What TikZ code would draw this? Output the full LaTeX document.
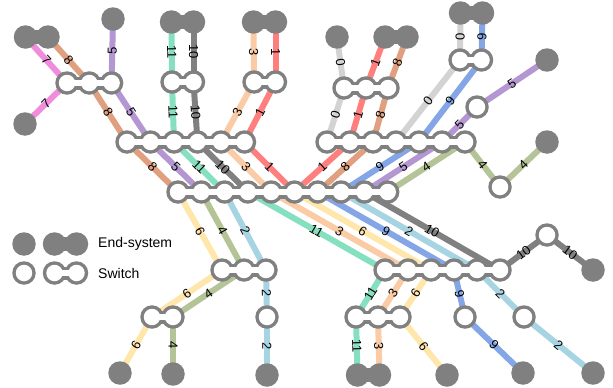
\documentclass[tikz,border=0pt]{standalone}
\usepackage{fontspec}
\setmainfont{Liberation Sans}
\definecolor{c0}{HTML}{D3D3D3}
\definecolor{c1}{HTML}{FF7F7F}
\definecolor{c2}{HTML}{A6D4E2}
\definecolor{c3}{HTML}{FACBA4}
\definecolor{c4}{HTML}{B4C496}
\definecolor{c5}{HTML}{B496D2}
\definecolor{c6}{HTML}{FFE6AA}
\definecolor{c7}{HTML}{F08CDC}
\definecolor{c8}{HTML}{E0A080}
\definecolor{c9}{HTML}{84A6E6}
\definecolor{c10}{HTML}{808080}
\definecolor{c11}{HTML}{84E0BE}
\definecolor{ng}{HTML}{808080}
\pgfdeclarelayer{bg}
\pgfsetlayers{bg,main}
% switch: name, n, x1, spacing, y
\newcommand\mkswitch[5]{%
  \foreach \i in {1,...,#2}{\coordinate (#1\i) at ({#3+(\i-1)*#4},#5);}%
  \pgfmathsetmacro\xend{#3+(#2-1)*#4}%
  \fill[ng] (#3,#5-6.5) rectangle (\xend,#5+6.5);
  \foreach \i in {1,...,#2}{\fill[ng] ({#3+(\i-1)*#4},#5) circle (11.75);}
  \fill[white] (#3,#5-3) rectangle (\xend,#5+3);
  \foreach \i in {1,...,#2}{\fill[white] ({#3+(\i-1)*#4},#5) circle (8.25);}
}
\newcommand\esbar[2]{\fill[ng] ([yshift=-7pt]#1.center) rectangle ([yshift=7pt]#2.center);}
\begin{document}
\begin{tikzpicture}[x=1pt,y=-1pt,
  lk/.style={line width=6pt},
  lab/.style={font=\fontsize{13}{13}\selectfont, sloped, inner sep=0pt, midway, text=black},
  es/.style={circle, fill=ng, minimum size=23.5pt, inner sep=0pt, draw=none},
  legtxt/.style={font=\fontsize{14}{14}\selectfont, anchor=west, inner sep=0pt}]
\useasboundingbox (0,0) rectangle (613,388);
% switches
\mkswitch{sa}{3}{67}{22.3}{83}
\mkswitch{sb}{2}{172}{21.5}{82}
\mkswitch{sc}{2}{254}{21.5}{82}
\mkswitch{sd}{6}{127}{23.5}{142}
\mkswitch{se}{10}{178}{23.3}{192}
\mkswitch{sf}{7}{327}{23}{142}
\mkswitch{sg}{3}{344}{22}{88}
\mkswitch{sh}{2}{460}{21.5}{60}
\mkswitch{sp}{1}{477}{0}{107}
\mkswitch{sq}{1}{500}{0}{187}
\mkswitch{sj}{3}{222}{22}{270}
\mkswitch{si}{2}{152}{21}{317}
\mkswitch{sr}{1}{267}{0}{317}
\mkswitch{sk}{6}{385}{23}{270}
\mkswitch{sl}{3}{356}{22}{317}
\mkswitch{ss}{1}{465}{0}{317}
\mkswitch{st}{1}{524}{0}{317}
\mkswitch{su}{1}{547}{0}{235}
\mkswitch{lgsa}{1}{24}{0}{273}
\mkswitch{lgsb}{2}{54.5}{22}{273}
% end-systems
\node[es] (ea1) at (25.5,37) {};
\node[es] (ea2) at (48,37) {};
\node[es] (eb) at (25,124) {};
\node[es] (ec) at (113,19) {};
\node[es] (ed1) at (171.5,22) {};
\node[es] (ed2) at (193.5,22) {};
\node[es] (ee1) at (253.5,22) {};
\node[es] (ee2) at (275.5,22) {};
\node[es] (ef) at (337,37) {};
\node[es] (eg1) at (385,37) {};
\node[es] (eg2) at (407,37) {};
\node[es] (eh1) at (460.5,13) {};
\node[es] (eh2) at (482.5,13) {};
\node[es] (ei) at (547,60) {};
\node[es] (ej) at (547,142) {};
\node[es] (ek) at (120,373) {};
\node[es] (el) at (173,374) {};
\node[es] (em) at (267,375) {};
\node[es] (en1) at (357.5,375) {};
\node[es] (en2) at (379.5,375) {};
\node[es] (eo) at (447,375) {};
\node[es] (ep) at (523,373) {};
\node[es] (eq) at (593,373) {};
\node[es] (er) at (593,270) {};
% bars of double end-systems
\esbar{ea1}{ea2}
\esbar{ed1}{ed2}
\esbar{ee1}{ee2}
\esbar{eg1}{eg2}
\esbar{eh1}{eh2}
\esbar{en1}{en2}
% legend
\node[es] (lge1) at (24,244) {};
\node[es] (lge2) at (54.5,244) {};
\node[es] (lge3) at (76.5,244) {};
\esbar{lge2}{lge3}
\node[legtxt] (lgt1) at (98,244) {End-system};
\node[legtxt] (lgt2) at (98,273) {Switch};
% links
\begin{pgfonlayer}{bg}
\draw[lk,c7] (ea1.center) -- node[lab] (t1) {7} (sa1);
\draw[lk,c7] (sa1) -- node[lab] (t2) {7} (eb.center);
\draw[lk,c8] (ea2.center) -- node[lab] (t3) {8} (sa2);
\draw[lk,c8] (sa2) -- node[lab] (t4) {8} (sd1);
\draw[lk,c8] (sd1) -- node[lab] (t5) {8} (se1);
\draw[lk,c5] (ec.center) -- node[lab] (t6) {5} (sa3);
\draw[lk,c5] (sa3) -- node[lab] (t7) {5} (sd2);
\draw[lk,c5] (sd2) -- node[lab] (t8) {5} (se2);
\draw[lk,c11] (ed1.center) -- node[lab] (t9) {11} (sb1);
\draw[lk,c11] (sb1) -- node[lab] (t10) {11} (sd3);
\draw[lk,c11] (sd3) -- node[lab] (t11) {11} (se3);
\draw[lk,c10] (ed2.center) -- node[lab] (t12) {10} (sb2);
\draw[lk,c10] (sb2) -- node[lab] (t13) {10} (sd4);
\draw[lk,c10] (sd4) -- node[lab] (t14) {10} (se4);
\draw[lk,c3] (ee1.center) -- node[lab] (t15) {3} (sc1);
\draw[lk,c3] (sc1) -- node[lab] (t16) {3} (sd5);
\draw[lk,c3] (sd5) -- node[lab] (t17) {3} (se5);
\draw[lk,c1] (ee2.center) -- node[lab] (t18) {1} (sc2);
\draw[lk,c1] (sc2) -- node[lab] (t19) {1} (sd6);
\draw[lk,c1] (sd6) -- node[lab] (t20) {1} (se6);
\draw[lk,c0] (ef.center) -- node[lab] (t21) {0} (sg1);
\draw[lk,c0] (sg1) -- node[lab] (t22) {0} (sf1);
\draw[lk,c1] (eg1.center) -- node[lab] (t23) {1} (sg2);
\draw[lk,c1] (sg2) -- node[lab] (t24) {1} (sf2);
\draw[lk,c1] (sf2) -- node[lab] (t25) {1} (se6);
\draw[lk,c8] (eg2.center) -- node[lab] (t26) {8} (sg3);
\draw[lk,c8] (sg3) -- node[lab] (t27) {8} (sf3);
\draw[lk,c8] (sf3) -- node[lab] (t28) {8} (se7);
\draw[lk,c0] (eh1.center) -- node[lab] (t29) {0} (sh1);
\draw[lk,c0] (sh1) -- node[lab] (t30) {0} (sf4);
\draw[lk,c9] (eh2.center) -- node[lab] (t31) {9} (sh2);
\draw[lk,c9] (sh2) -- node[lab] (t32) {9} (sf5);
\draw[lk,c9] (sf5) -- node[lab] (t33) {9} (se8);
\draw[lk,c5] (ei.center) -- node[lab] (t34) {5} (sp1);
\draw[lk,c5] (sp1) -- node[lab] (t35) {5} (sf6);
\draw[lk,c5] (sf6) -- node[lab] (t36) {5} (se9);
\draw[lk,c4] (ej.center) -- node[lab] (t37) {4} (sq1);
\draw[lk,c4] (sq1) -- node[lab] (t38) {4} (sf7);
\draw[lk,c4] (sf7) -- node[lab] (t39) {4} (se10);
\draw[lk,c6] (se1) -- node[lab] (t40) {6} (sj1);
\draw[lk,c6] (sj1) -- node[lab] (t41) {6} (si1);
\draw[lk,c6] (si1) -- node[lab] (t42) {6} (ek.center);
\draw[lk,c4] (se2) -- node[lab] (t43) {4} (sj2);
\draw[lk,c4] (sj2) -- node[lab] (t44) {4} (si2);
\draw[lk,c4] (si2) -- node[lab] (t45) {4} (el.center);
\draw[lk,c2] (se3) -- node[lab] (t46) {2} (sj3);
\draw[lk,c2] (sj3) -- node[lab] (t47) {2} (sr1);
\draw[lk,c2] (sr1) -- node[lab] (t48) {2} (em.center);
\draw[lk,c11] (se4) -- node[lab] (t49) {11} (sk1);
\draw[lk,c3] (se5) -- node[lab] (t50) {3} (sk2);
\draw[lk,c6] (se6) -- node[lab] (t51) {6} (sk3);
\draw[lk,c9] (se7) -- node[lab] (t52) {9} (sk4);
\draw[lk,c2] (se8) -- node[lab] (t53) {2} (sk5);
\draw[lk,c10] (se9) -- node[lab] (t54) {10} (sk6);
\draw[lk,c11] (sk1) -- node[lab] (t55) {11} (sl1);
\draw[lk,c11] (sl1) -- node[lab] (t56) {11} (en1.center);
\draw[lk,c3] (sk2) -- node[lab] (t57) {3} (sl2);
\draw[lk,c3] (sl2) -- node[lab] (t58) {3} (en2.center);
\draw[lk,c6] (sk3) -- node[lab] (t59) {6} (sl3);
\draw[lk,c6] (sl3) -- node[lab] (t60) {6} (eo.center);
\draw[lk,c9] (sk4) -- node[lab] (t61) {9} (ss1);
\draw[lk,c9] (ss1) -- node[lab] (t62) {9} (ep.center);
\draw[lk,c2] (sk5) -- node[lab] (t63) {2} (st1);
\draw[lk,c2] (st1) -- node[lab] (t64) {2} (eq.center);
\draw[lk,c10] (sk6) -- node[lab] (t65) {10} (su1);
\draw[lk,c10] (su1) -- node[lab] (t66) {10} (er.center);
\end{pgfonlayer}
\end{tikzpicture}
\end{document}
